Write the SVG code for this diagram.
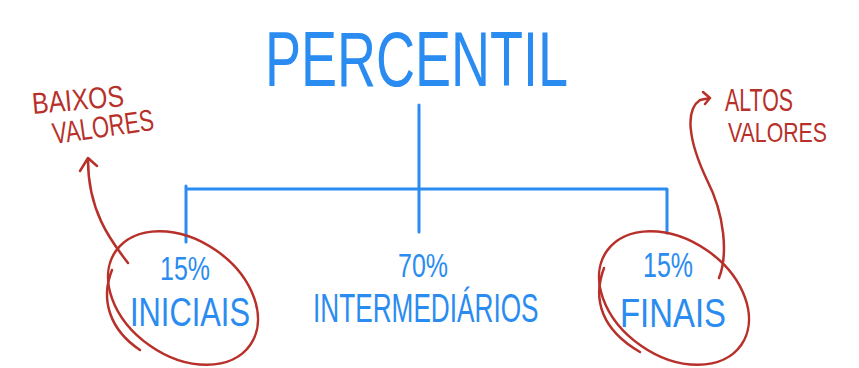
<svg xmlns="http://www.w3.org/2000/svg" width="859" height="368" viewBox="0 0 859 368">
<style>
.blue{fill:#2a8cf0;font-family:"Liberation Sans","DejaVu Sans",sans-serif}
.red{fill:#b8302a;font-family:"Liberation Sans","DejaVu Sans",sans-serif}
.bl{stroke:#2a8cf0;stroke-width:3;fill:none;stroke-linecap:round}
.rl{stroke:#b8302a;stroke-width:2.5;fill:none;stroke-linecap:round;stroke-linejoin:round}
</style>
<rect width="859" height="368" fill="#fff"/>
<g id="title"><text class="blue" x="265" y="86" font-size="78" textLength="303" lengthAdjust="spacingAndGlyphs">PERCENTIL</text></g>
<g id="connectors">
<path class="bl" d="M419,105 V189 M186,189 H667 M186,186 V242 M419,189 V232 M667,189 V233"/>
<path class="rl" d="M128,263 C110,240 88,210 88,160 M80,171 L88,158 L97,166"/>
<path class="rl" d="M719,278 C728,255 725,215 707,180 C688,140 685,110 700,100 L710,98 M703,92 L710,98 L705,104"/>
</g>
<g id="iniciais">
<ellipse class="rl" cx="183" cy="298" rx="82" ry="58" transform="rotate(35 183 298)"/>
<path class="rl" d="M112,270 C100,300 110,330 140,350"/>
<text class="blue" x="160" y="280" font-size="34" textLength="50" lengthAdjust="spacingAndGlyphs">15%</text>
<text class="blue" x="130" y="326" font-size="40" textLength="120" lengthAdjust="spacingAndGlyphs">INICIAIS</text>
</g>
<g id="intermediarios">
<text class="blue" x="398" y="277" font-size="33" textLength="50" lengthAdjust="spacingAndGlyphs">70%</text>
<text class="blue" x="0" y="0" font-size="40" transform="translate(313,322) scale(0.655,1)">INTERMEDIÁRIOS</text>
</g>
<g id="finais">
<ellipse class="rl" cx="674" cy="298" rx="82" ry="58" transform="rotate(35 674 298)"/>
<path class="rl" d="M604,268 C592,300 602,330 640,352"/>
<text class="blue" x="643" y="277" font-size="35" textLength="50" lengthAdjust="spacingAndGlyphs">15%</text>
<text class="blue" x="620" y="327" font-size="41" textLength="106" lengthAdjust="spacingAndGlyphs">FINAIS</text>
</g>
<g id="baixos">
<text class="red" x="33" y="114" font-size="30" textLength="92" lengthAdjust="spacingAndGlyphs" transform="rotate(-5 33 114)">BAIXOS</text>
<text class="red" x="54" y="144" font-size="30" textLength="102" lengthAdjust="spacingAndGlyphs" transform="rotate(-8 54 144)">VALORES</text>
</g>
<g id="altos">
<text class="red" x="725" y="111" font-size="32" textLength="68" lengthAdjust="spacingAndGlyphs">ALTOS</text>
<text class="red" x="728" y="142" font-size="28" textLength="99" lengthAdjust="spacingAndGlyphs">VALORES</text>
</g>
</svg>
